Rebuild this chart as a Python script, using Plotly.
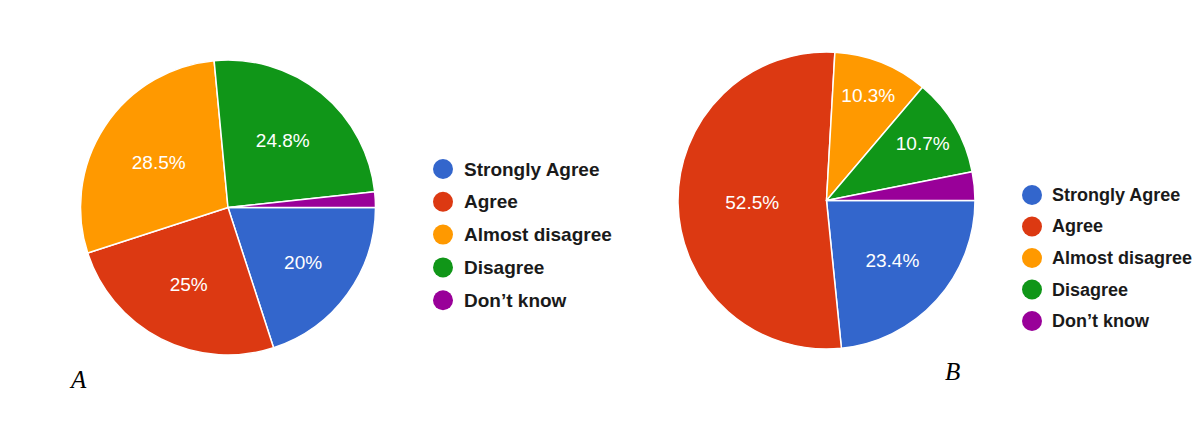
import plotly.graph_objects as go

categories = ["Strongly Agree", "Agree", "Almost disagree", "Disagree", "Don\u2019t know"]
values_a = [20, 25, 28.5, 24.8, 1.7]
values_b = [23.4, 52.5, 10.3, 10.7, 3.1]
labels_a = ["20%", "25%", "28.5%", "24.8%", ""]
labels_b = ["23.4%", "52.5%", "10.3%", "10.7%", ""]
colors = ["#3366cc", "#dc3912", "#ff9900", "#109618", "#990099"]

W, H = 1200, 438

def px(x):
    return x / W

def py(y):
    return 1 - y / H

fig = go.Figure()

def add_pie(vals, texts, x0, x1, y0, y1):
    fig.add_trace(go.Pie(
        labels=categories, values=vals, text=texts,
        textinfo="text", textposition="inside",
        insidetextorientation="horizontal",
        textfont=dict(family="Liberation Sans, Arial", size=19, color="white"),
        marker=dict(colors=colors, line=dict(color="white", width=1.5)),
        sort=False, direction="clockwise", rotation=90,
        domain=dict(x=[px(x0), px(x1)], y=[py(y1), py(y0)]),
        hoverinfo="label+percent", showlegend=False,
    ))

add_pie(values_a, labels_a, 80, 376, 60, 355)
add_pie(values_b, labels_b, 678, 975, 52, 349)

def add_legend(cx, tx, y_first, step, size):
    for i, (cat, col) in enumerate(zip(categories, colors)):
        y = y_first + i * step
        fig.add_shape(type="circle", xref="paper", yref="paper",
                      xsizemode="pixel", ysizemode="pixel",
                      xanchor=px(cx), yanchor=py(y),
                      x0=-10, x1=10, y0=-10, y1=10,
                      fillcolor=col, line=dict(width=0))
        fig.add_annotation(x=px(tx), y=py(y), xref="paper", yref="paper",
                           xanchor="left", yanchor="middle", showarrow=False,
                           text="<b>" + cat + "</b>",
                           font=dict(family="Liberation Sans, Arial", size=size, color="#1a1a1a"))

add_legend(443, 462, 169, 32.8, 19)
add_legend(1032, 1050, 195, 31.5, 18)

for letter, x, y in [("A", 78, 379), ("B", 952, 371)]:
    fig.add_annotation(x=px(x), y=py(y), xref="paper", yref="paper",
                       xanchor="center", yanchor="middle", showarrow=False,
                       text="<i>" + letter + "</i>",
                       font=dict(family="Liberation Serif, Times New Roman", size=25, color="black"))

fig.update_layout(width=W, height=H, margin=dict(l=0, r=0, t=0, b=0),
                  paper_bgcolor="white", plot_bgcolor="white", showlegend=False)

fig.write_html("out.html", config={"displayModeBar": False},
               post_script="document.body.style.margin='0';document.body.style.overflow='hidden';")
